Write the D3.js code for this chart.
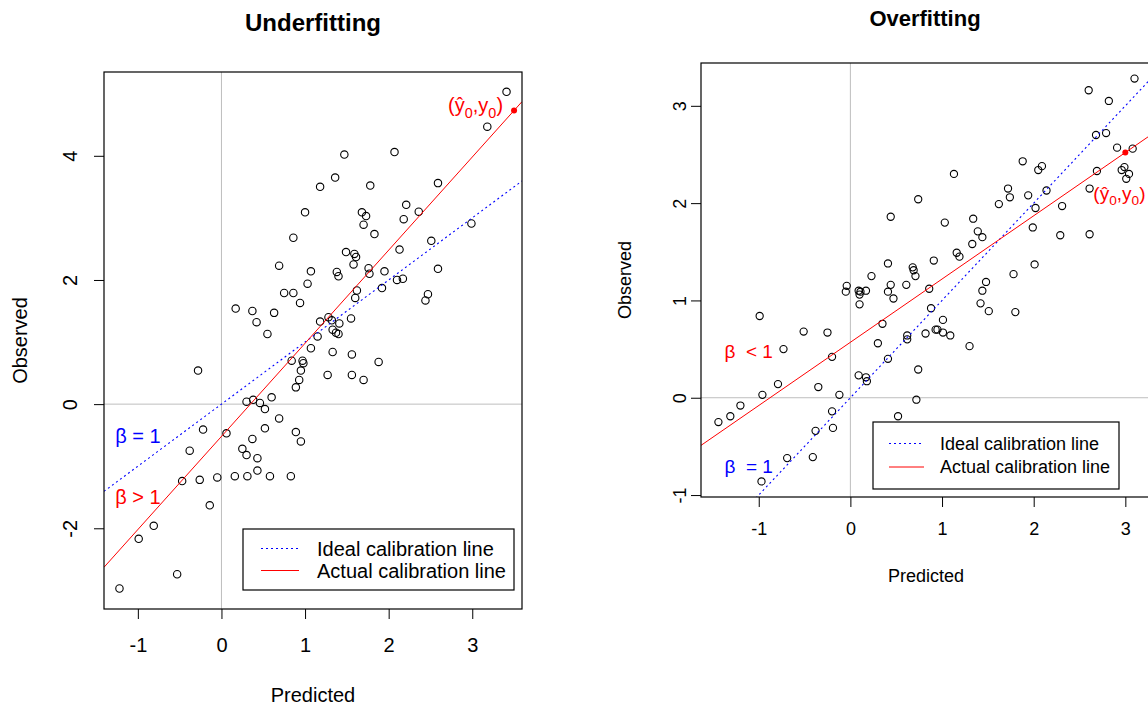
<!DOCTYPE html>
<html><head><meta charset="utf-8">
<script src="https://cdn.jsdelivr.net/npm/d3@7"></script>
<style>body{margin:0;background:#fff}text{font-family:"Liberation Sans",Arial,sans-serif;fill:#000}</style>
</head><body><svg id="c" width="1148" height="707"></svg>
<script>
// ---------- data ----------
const underX = [1.18,1.00,0.86,3.41,3.18,1.47,2.07,1.36,1.78,2.59,2.21,2.36,1.68,1.73,2.18,1.70,2.99,1.83,2.51,1.49,1.59,1.61,2.13,0.69,1.07,1.03,0.75,0.86,0.94,0.17,0.37,0.63,0.42,1.18,0.55,1.15,1.07,0.84,0.97,0.98,0.95,0.93,0.89,1.27,-0.28,0.30,0.38,0.46,0.60,0.52,0.69,-0.22,0.06,0.52,0.89,0.95,0.37,-0.38,0.25,1.58,1.38,1.40,1.76,1.77,1.95,2.59,2.10,2.17,1.92,2.47,2.44,1.62,1.60,1.55,1.28,1.32,1.41,1.33,1.37,1.40,1.33,1.56,1.88,1.56,1.70,0.30,0.43,0.43,-0.47,-0.26,-0.05,0.16,0.31,0.58,0.83,-0.14,-0.81,-0.99,-0.53,-1.22];
const underY = [3.50,3.09,2.68,5.03,4.47,4.02,4.06,3.65,3.52,3.56,3.21,3.10,3.09,3.03,2.98,2.89,2.91,2.74,2.63,2.45,2.42,2.37,2.49,2.23,2.14,1.94,1.79,1.79,1.63,1.54,1.50,1.47,1.32,1.33,1.13,1.09,0.90,0.70,0.70,0.66,0.54,0.39,0.27,0.47,0.54,0.04,0.07,0.02,0.11,-0.08,-0.23,-0.41,-0.47,-0.39,-0.45,-0.60,-0.56,-0.75,-0.72,2.25,2.13,2.06,2.19,2.10,2.14,2.18,2.00,2.02,1.87,1.77,1.67,1.83,1.71,1.38,1.40,1.35,1.30,1.20,1.15,1.13,0.84,0.80,0.68,0.47,0.39,-0.82,-0.87,-1.07,-1.24,-1.22,-1.18,-1.16,-1.16,-1.16,-1.16,-1.63,-1.96,-2.17,-2.74,-2.97];
const overX = [0.74,0.44,0.41,0.68,0.69,0.71,0.23,3.10,2.60,2.82,2.68,2.79,2.91,3.08,2.69,2.96,2.99,3.04,3.01,2.61,1.88,2.05,2.09,1.13,1.72,1.74,1.94,2.14,1.62,2.02,2.31,1.34,1.03,1.39,1.44,1.33,1.99,2.29,2.61,1.16,1.19,0.91,2.01,1.78,-0.04,-0.05,0.09,0.11,0.17,0.10,0.10,0.44,0.41,0.47,0.61,-0.99,-0.51,-0.25,-0.73,-0.20,0.35,0.30,0.62,0.62,0.41,0.74,0.09,0.17,0.18,-0.79,-0.35,-0.96,-0.12,-1.20,-1.31,-1.44,-0.20,-0.19,-0.38,0.72,0.52,-0.69,-0.41,-0.97,0.86,0.88,1.48,1.44,1.42,1.51,1.80,0.82,0.93,0.95,1.01,1.01,1.09,1.30];
const overY = [2.04,1.86,1.38,1.34,1.31,1.25,1.25,3.28,3.16,3.05,2.70,2.72,2.57,2.56,2.33,2.34,2.37,2.30,2.25,2.15,2.43,2.34,2.38,2.30,2.15,2.06,2.08,2.13,1.99,1.95,1.97,1.84,1.80,1.71,1.65,1.58,1.75,1.67,1.68,1.49,1.45,1.41,1.37,1.27,1.15,1.09,1.10,1.09,1.10,1.06,0.96,1.16,1.09,1.02,1.16,0.84,0.68,0.67,0.50,0.42,0.76,0.56,0.64,0.60,0.40,0.29,0.23,0.21,0.17,0.14,0.11,0.03,0.03,-0.08,-0.19,-0.25,-0.14,-0.31,-0.34,-0.02,-0.19,-0.62,-0.61,-0.86,1.12,0.92,1.19,1.10,0.97,0.89,0.88,0.66,0.70,0.70,0.80,0.67,0.64,0.53];
const xTicks = [-1, 0, 1, 2, 3];
const underYTicks = [-2, 0, 2, 4];
const overYTicks = [-1, 0, 1, 2, 3];
const idealFit = [0, 1];          // intercept, slope
const underFit = [-0.52, 1.5];
const overFit = [0.57, 0.65];
const underPoint = [3.5, 4.73];
const overPoint = [3.0, 2.52];
const legendLabels = ["Ideal calibration line", "Actual calibration line"];
const titles = ["Underfitting", "Overfitting"];

// ---------- drawing ----------
const svg = d3.select("#c");

function hatLabel(g, x, y, anchor, fs) {
  const t = g.append("text").attr("x", x).attr("y", y).attr("text-anchor", anchor)
    .style("font-size", fs + "px").style("fill", "#ff0000");
  t.append("tspan").text("(ŷ");
  t.append("tspan").attr("dy", fs*0.3).style("font-size", (fs*0.72)+"px").text("0");
  t.append("tspan").attr("dy", -fs*0.3).text(",y");
  t.append("tspan").attr("dy", fs*0.3).style("font-size", (fs*0.72)+"px").text("0");
  t.append("tspan").attr("dy", -fs*0.3).text(")");
}

function panel(o) {
  const x = d3.scaleLinear().domain(o.xd).range([o.L, o.R]);
  const y = d3.scaleLinear().domain(o.yd).range([o.B, o.T]);
  const g = svg.append("g");
  const id = "clip" + o.k;
  svg.append("clipPath").attr("id", id).append("rect")
    .attr("x", o.L).attr("y", o.T).attr("width", o.R - o.L).attr("height", o.B - o.T);
  const pg = g.append("g").attr("clip-path", `url(#${id})`);
  // grid lines at 0
  pg.append("line").attr("x1", x(0)).attr("x2", x(0)).attr("y1", o.T).attr("y2", o.B)
    .attr("stroke", "#bebebe").attr("stroke-width", 1);
  pg.append("line").attr("x1", o.L).attr("x2", o.R).attr("y1", y(0)).attr("y2", y(0))
    .attr("stroke", "#bebebe").attr("stroke-width", 1);
  // points
  pg.selectAll("circle.pt").data(o.px.map((d, i) => [d, o.py[i]])).join("circle")
    .attr("class", "pt").attr("cx", d => x(d[0])).attr("cy", d => y(d[1])).attr("r", o.r)
    .attr("fill", "none").attr("stroke", "#000").attr("stroke-width", 1.1);
  // lines
  const xd = o.xd;
  const ab = (f) => [[xd[0], f[0] + f[1]*xd[0]], [xd[1], f[0] + f[1]*xd[1]]];
  const line = d3.line().x(d => x(d[0])).y(d => y(d[1]));
  pg.append("path").attr("d", line(ab(idealFit))).attr("stroke", "#0000ff")
    .attr("stroke-dasharray", "2,3").attr("fill", "none").attr("stroke-width", 1.1);
  pg.append("path").attr("d", line(ab(o.fit))).attr("stroke", "#ff0000")
    .attr("fill", "none").attr("stroke-width", 1);
  pg.append("circle").attr("cx", x(o.pt[0])).attr("cy", y(o.pt[1])).attr("r", 3).attr("fill", "#ff0000");
  // box
  g.append("rect").attr("x", o.L).attr("y", o.T).attr("width", o.R - o.L).attr("height", o.B - o.T)
    .attr("fill", "none").attr("stroke", "#000").attr("stroke-width", 1.2);
  // axes
  const ax = g.append("g").attr("transform", `translate(0,${o.B})`)
    .call(d3.axisBottom(x).tickValues(xTicks).tickSize(o.tk).tickSizeOuter(0).tickFormat(d => String(d)));
  ax.select(".domain").remove();
  ax.selectAll(".tick line").attr("stroke", "#000");
  ax.selectAll(".tick text").attr("y", o.xlab).attr("dy", "0.35em").style("font-size", o.fs + "px").attr("fill", "#000");
  const ay = g.append("g").attr("transform", `translate(${o.L},0)`)
    .call(d3.axisLeft(y).tickValues(o.yt).tickSize(o.tk).tickSizeOuter(0).tickFormat(d => String(d)));
  ay.select(".domain").remove();
  ay.selectAll(".tick line").attr("stroke", "#000");
  ay.selectAll(".tick text").attr("x", null).attr("dy", "0.35em").attr("text-anchor", "middle")
    .attr("transform", `translate(${-o.ylab},0) rotate(-90)`).style("font-size", o.fs + "px").attr("fill", "#000");
  // titles
  g.append("text").attr("x", o.tx).attr("y", o.ty).attr("text-anchor", "middle")
    .style("font-size", o.tfs + "px").style("font-weight", "bold").text(o.title);
  g.append("text").attr("x", (o.L + o.R) / 2).attr("y", o.xtY).attr("dy", "0.35em").attr("text-anchor", "middle")
    .style("font-size", o.fs + "px").text("Predicted");
  g.append("text").attr("transform", `translate(${o.ytX},${(o.T + o.B) / 2}) rotate(-90)`)
    .attr("dy", "0.35em").attr("text-anchor", "middle").style("font-size", o.fs + "px").text("Observed");
  // beta labels
  o.betas.forEach(b => {
    g.append("text").attr("x", x(b.x)).attr("y", y(b.y)).attr("dy", "0.35em").attr("text-anchor", "middle")
      .attr("xml:space", "preserve").style("white-space", "pre")
      .style("font-size", o.bfs + "px").style("fill", b.c).text(b.t);
  });
  hatLabel(g, x(o.pt[0]) + o.hx, y(o.pt[1]) + o.hy, o.ha, o.bfs);
  // legend
  const lg = g.append("g").attr("transform", `translate(${o.lg[0]},${o.lg[1]})`);
  lg.append("rect").attr("width", o.lg[2]).attr("height", o.lg[3]).attr("fill", "#fff").attr("stroke", "#000").attr("stroke-width", 1.2);
  legendLabels.forEach((t, i) => {
    const yy = o.lg[4] + i * o.lg[5];
    lg.append("line").attr("x1", o.lg[6]).attr("x2", o.lg[7]).attr("y1", yy).attr("y2", yy)
      .attr("stroke", i ? "#ff0000" : "#0000ff").attr("stroke-width", i ? 1 : 1.2)
      .attr("stroke-dasharray", i ? null : "2,3");
    lg.append("text").attr("x", o.lg[8]).attr("y", yy).attr("dy", "0.35em").style("font-size", o.fs + "px").text(t);
  });
}

panel({k: 0, L: 104, R: 522, T: 72, B: 609, xd: [-1.405, 3.595], yd: [-3.30, 5.35],
  px: underX, py: underY, yt: underYTicks, fit: underFit, pt: underPoint, r: 3.7,
  tk: 10, fs: 20, tfs: 24, xlab: 36, ylab: 34, title: titles[0], tx: 313, ty: 31, xtY: 695, ytX: 20,
  bfs: 20, betas: [{x: -1.0, y: -0.52, t: "β = 1", c: "#0000ff"}, {x: -1.0, y: -1.5, t: "β > 1", c: "#ff0000"}],
  hx: -11, hy: 2, ha: "end",
  lg: [243, 529, 271, 61, 19.5, 22, 18, 56, 74]});

panel({k: 1, L: 701, R: 1151, T: 63, B: 497, xd: [-1.63, 3.28], yd: [-1.02, 3.44],
  px: overX, py: overY, yt: overYTicks, fit: overFit, pt: overPoint, r: 3.6,
  tk: 10, fs: 18, tfs: 22, xlab: 32, ylab: 21, title: titles[1], tx: 925, ty: 26, xtY: 576, ytX: 625,
  bfs: 19, betas: [{x: -1.11, y: 0.48, t: "β  < 1", c: "#ff0000"}, {x: -1.11, y: -0.71, t: "β  = 1", c: "#0000ff"}],
  hx: -32, hy: 47, ha: "start",
  lg: [873, 422, 246, 67, 21.5, 23.5, 16, 51, 67]});
</script></body></html>
